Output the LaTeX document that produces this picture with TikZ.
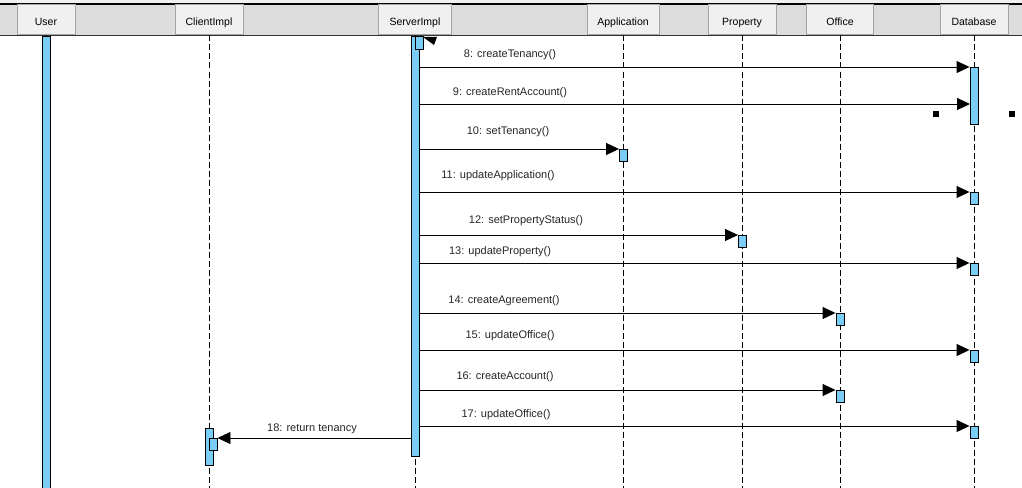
\documentclass[tikz,border=0pt]{standalone}
\usepackage{fontspec}
\setmainfont{Liberation Sans}
\usetikzlibrary{arrows.meta}
\definecolor{barblue}{RGB}{122,206,245}
\definecolor{bandgray}{RGB}{220,220,220}
\definecolor{boxgray}{RGB}{240,240,240}
\definecolor{edgegray}{RGB}{165,165,165}
\tikzset{
  head/.style={draw=edgegray,fill=boxgray,line width=1pt,minimum height=30pt,inner sep=0pt,
    text height=11pt,text depth=0pt,font=\fontsize{10.5}{12}\selectfont},
  life/.style={dash pattern=on 6pt off 3pt,line width=0.9pt},
  bar/.style={draw,fill=barblue,line width=0.9pt,minimum width=8pt,inner sep=0pt,anchor=north},
  act/.style={bar,minimum height=12pt},
  msg/.style={line width=0.9pt,-{Triangle[length=13pt,width=12pt]}},
  lbl/.style={font=\fontsize{11}{13}\selectfont,inner sep=0pt,text=black!85},
}
\begin{document}
\begin{tikzpicture}[x=1pt,y=-1pt]
  \useasboundingbox (0,0) rectangle (1022,487);
  \fill[white] (0,0) rectangle (1022,487);
  \fill[boxgray] (0,0) rectangle (1022,4);
  % header band
  \fill[bandgray] (0,4) rectangle (1022,35.5);
  \draw[line width=1.2pt] (0,4) -- (1022,4);
  \draw[line width=1.4pt,black!80] (0,35.5) -- (1022,35.5);
  \foreach \name/\txt/\x/\w in {user/User/46/58,client/ClientImpl/209/68,server/ServerImpl/415/73,
      app/Application/623/72,prop/Property/742/68,office/Office/840/67,db/Database/974/68}{
    \node[head,minimum width=\w pt] (\name) at (\x,20) {\txt};
    \draw[life] (\name.south) -- ++(0,452);
  }
  % activation bars
  \node[bar,minimum height=452pt] (userbar) at (46,36) {};
  \node[bar,minimum height=420pt] (srvbar) at (415,36) {};
  \node[bar,minimum height=13pt] (srvself) at (419,36) {};
  \fill (423,37) -- (437,37) -- (434,45) -- cycle;
  \node[bar,minimum height=57pt] (dbbar) at (974,67) {};
  \node[bar,minimum height=37pt] (clibar) at (209.5,428) {};
  \node[act] (clinest) at (213,438) {};
  \node[act] (a10) at (623.5,149) {};
  \node[act] (a11) at (974,192) {};
  \node[act] (a12) at (742.5,235) {};
  \node[act] (a13) at (974,263) {};
  \node[act] (a14) at (840,313) {};
  \node[act] (a15) at (974,350) {};
  \node[act] (a16) at (840,390) {};
  \node[act] (a17) at (974,426) {};
  \coordinate (m9) at (970,104);
  % messages
  \draw[msg] (srvbar.east |- dbbar.north west) -- (dbbar.north west);
  \draw[msg] (srvbar.east |- m9) -- (m9);
  \foreach \t in {a10,a11,a12,a13,a14,a15,a16,a17}
    \draw[msg] (srvbar.east |- \t.north west) -- (\t.north west);
  \draw[msg] (srvbar.west |- clinest.north east) -- (clinest.north east);
  \node[lbl] (l8) at (510,54.5) {8: createTenancy()};
  \node[lbl] (l9) at (510,92.5) {9: createRentAccount()};
  \node[lbl] (l10) at (508,131.5) {10: setTenancy()};
  \node[lbl] (l11) at (498,175.5) {11: updateApplication()};
  \node[lbl] (l12) at (526,220.5) {12: setPropertyStatus()};
  \node[lbl] (l13) at (500,251.5) {13: updateProperty()};
  \node[lbl] (l14) at (504,300.5) {14: createAgreement()};
  \node[lbl] (l15) at (510,335.5) {15: updateOffice()};
  \node[lbl] (l16) at (505,376.5) {16: createAccount()};
  \node[lbl] (l17) at (506,414.5) {17: updateOffice()};
  \node[lbl] (l18) at (312,428.5) {18: return tenancy};
  % selection handles
  \fill (933,111) rectangle (939,117);
  \fill (1009,111) rectangle (1015,117);
\end{tikzpicture}
\end{document}
